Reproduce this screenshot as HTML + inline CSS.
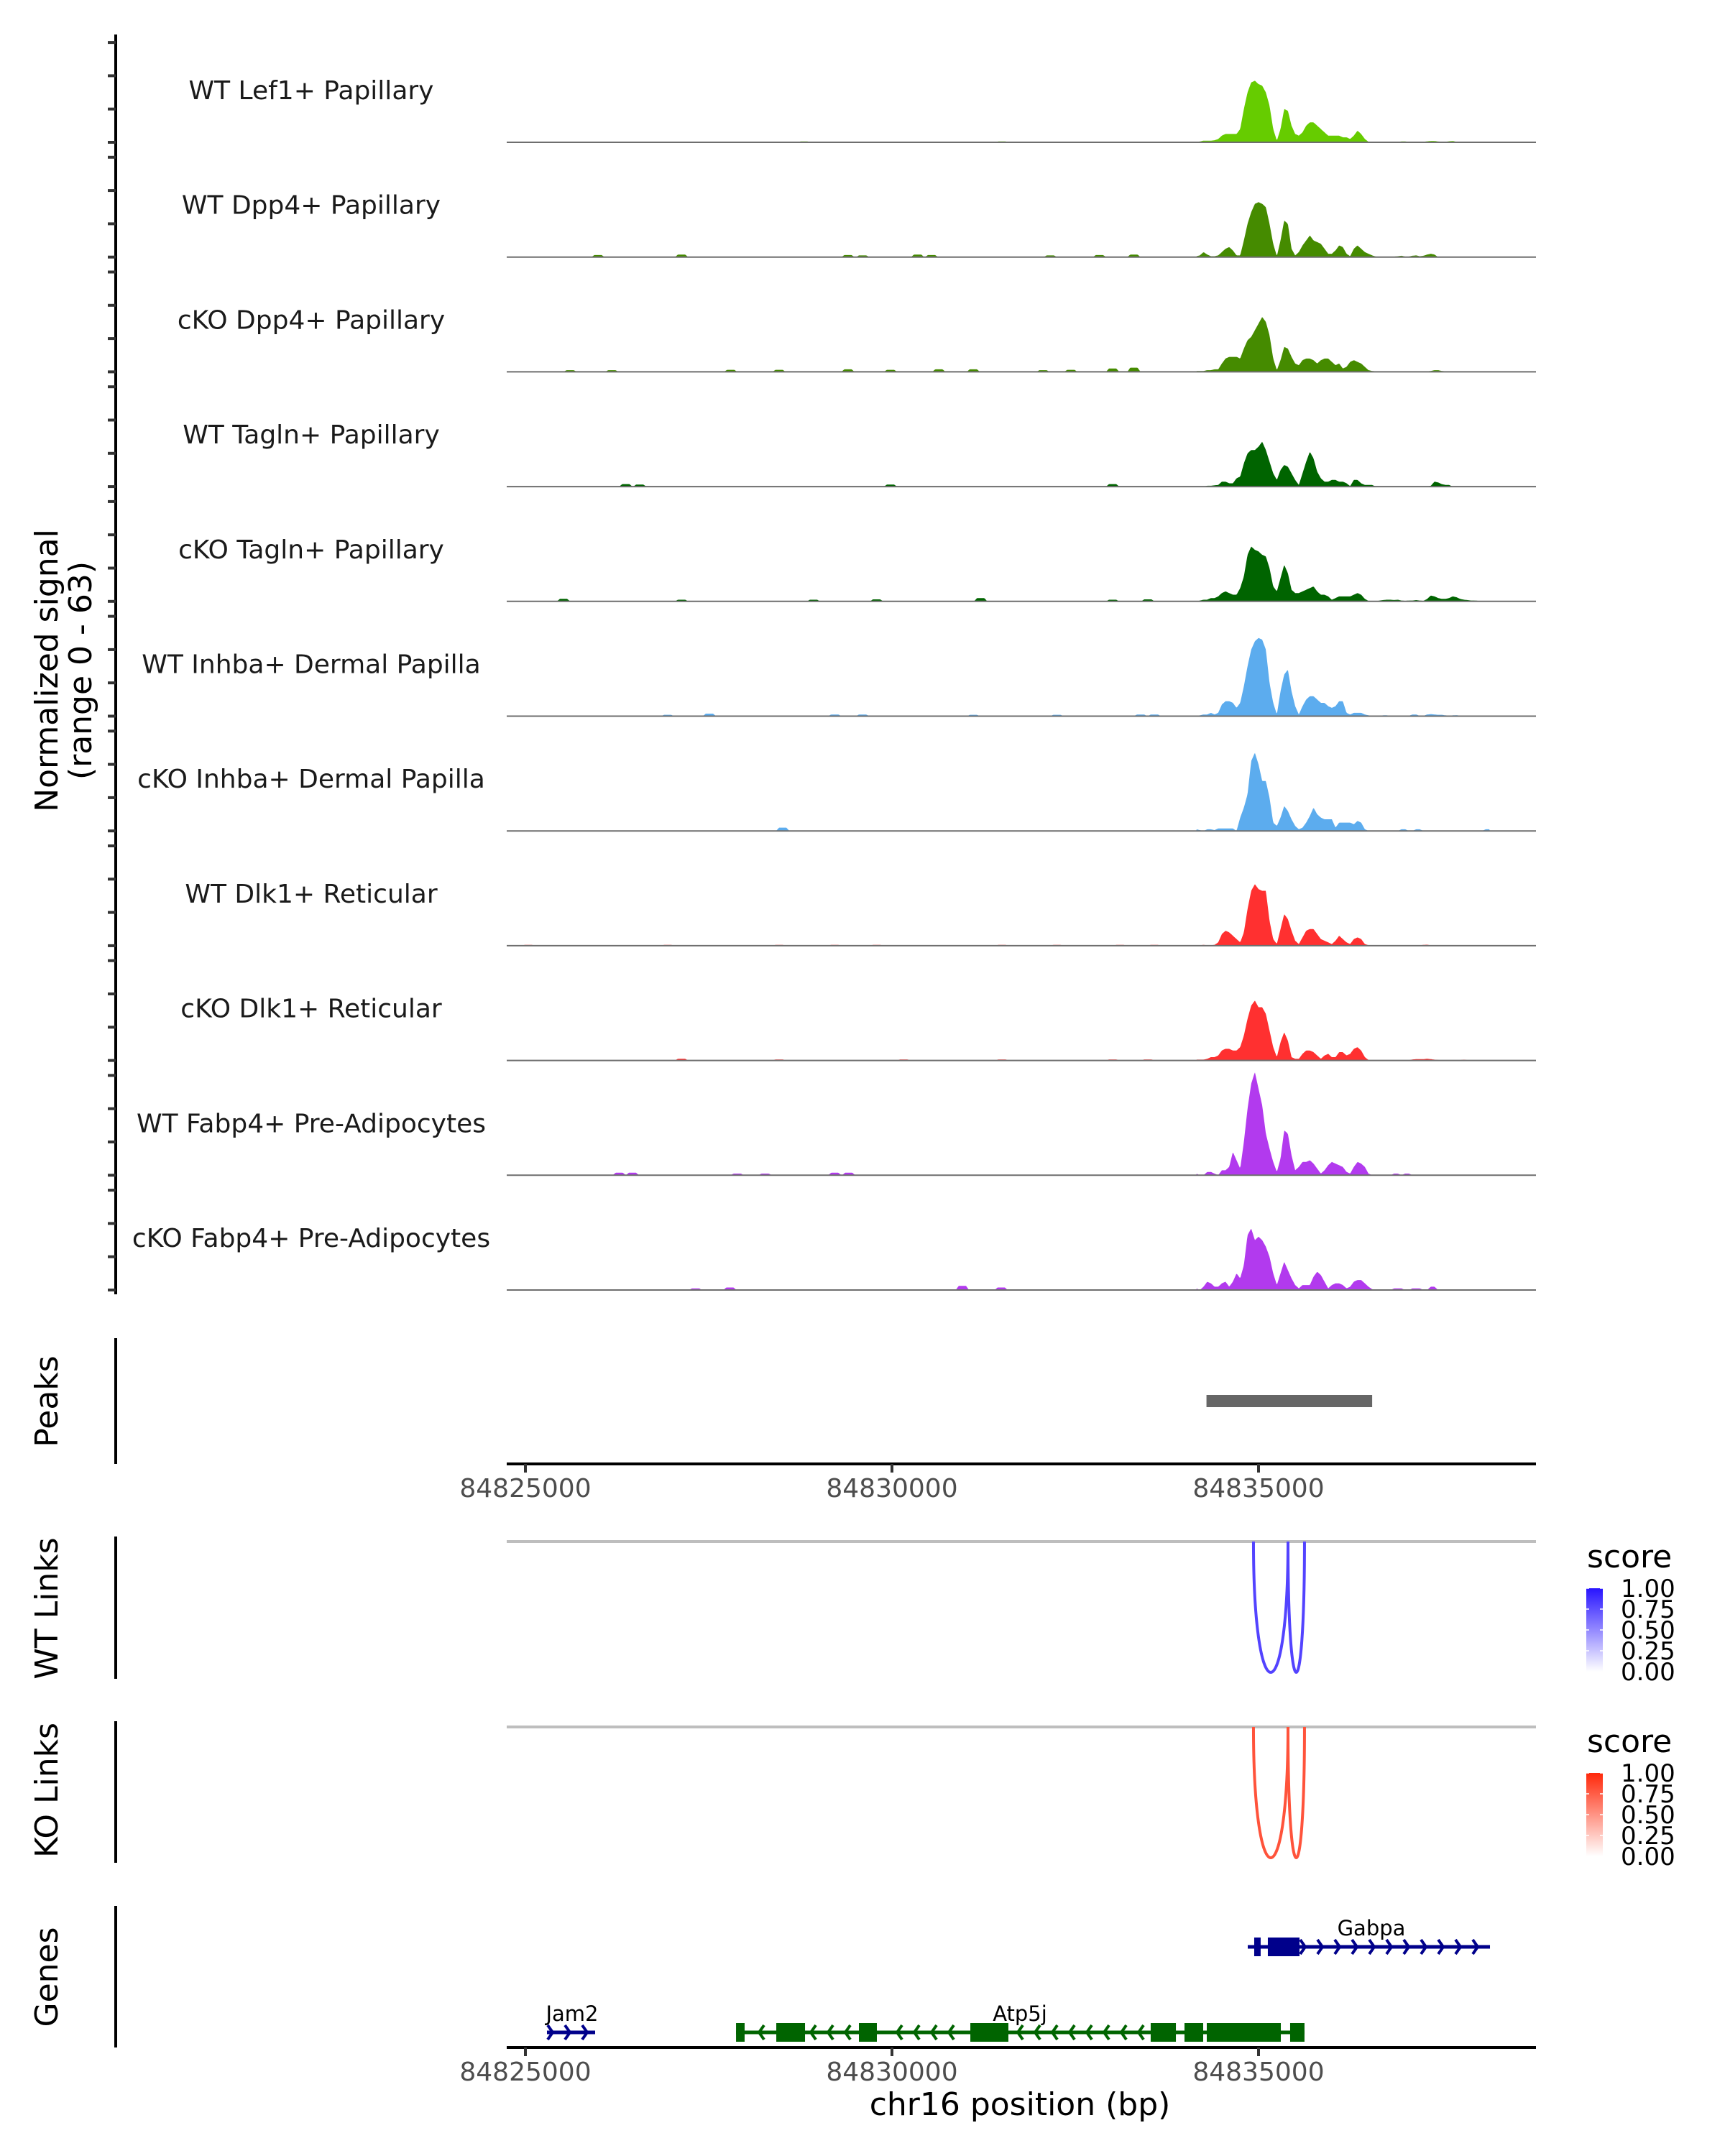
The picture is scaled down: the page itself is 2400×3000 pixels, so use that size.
<!DOCTYPE html>
<html><head><meta charset="utf-8"><title>Coverage plot</title>
<style>
html,body{margin:0;padding:0;background:#fff;}
svg{display:block;font-family:"DejaVu Sans","Liberation Sans",sans-serif;}
</style></head>
<body>
<svg id="chart" width="2400" height="3000" viewBox="0 0 2400 3000" xmlns="http://www.w3.org/2000/svg">
<rect x="0" y="0" width="2400" height="3000" fill="#fff"/>
</svg>
<script>
// ---------- DATA ----------
const trackNames = ["WT Lef1+ Papillary","WT Dpp4+ Papillary","cKO Dpp4+ Papillary","WT Tagln+ Papillary","cKO Tagln+ Papillary","WT Inhba+ Dermal Papilla","cKO Inhba+ Dermal Papilla","WT Dlk1+ Reticular","cKO Dlk1+ Reticular","WT Fabp4+ Pre-Adipocytes","cKO Fabp4+ Pre-Adipocytes"];
const trackColors = ["#66CC00","#458B00","#458B00","#006400","#006400","#5CACEE","#5CACEE","#FF3030","#FF3030","#B23AEE","#B23AEE"];
const binsBp = [84834150,84834200,84834250,84834300,84834350,84834400,84834450,84834500,84834550,84834600,
84834650,84834700,84834750,84834800,84834850,84834900,84834950,84835000,84835050,84835100,
84835150,84835200,84835250,84835300,84835350,84835400,84835450,84835500,84835550,84835600,
84835650,84835700,84835750,84835800,84835850,84835900,84835950,84836000,84836050,84836100,
84836150,84836200,84836250,84836300,84836350,84836400,84836450,84836500,84836550,84836600,
84836650,84836700,84836750,84836800,84836850,84836900,84836950,84837000,84837050,84837100,
84837150,84837200,84837250,84837300,84837350,84837400,84837450,84837500,84837550,84837600,
84837650,84837700,84837750,84837800,84837850,84837900,84837950,84838000,84838050,84838100,84838150];
const sigLef1WT = [0.3,0.5,1,1,1,1.2,2,4,5,5,5,5,8,20,30,36,37,35,34,30,22,8,1,8,20,19,10,5,4,6,10,12,12,10,8,6,4,4,4,4,3,3,2,4,7,5,2,0.3,
0.2,0.2,0.2,0.2,0.2,0.2,0.2,0.3,0.5,0.5,0.3,0.2,0.2,0.2,0.3,0.6,0.8,0.8,0.5,0.3,0.3,0.6,0.8,0.3,0.2,0.2,0.2,0.2,0.2,0.2,0.2,0.2,0.2];
const sigDpp4WT = [0.5,1,3,1.5,0.5,0.5,1,3,5,6,4,1,1,10,20,27,32,33,32,30,20,8,0.5,10,22,20,5,1,3,7,10,13,10,9,8,5,2,2,4,7,6,2,0.5,5,7,5,3,2,
1,0.3,0.3,0.3,0.3,0.3,0.3,0.5,0.8,0.3,0.3,0.8,1,0.5,0.8,1.5,2,1.5,0,0,0,0,0,0,0,0,0,0,0,0,0,0,0];
const sigDpp4KO = [0.5,0.5,0.5,1,1,1.5,1.5,5,8,9,9,9,8,14,19,21,25,29,33,30,22,8,1,7,15,14,9,5,4,7,8,8,7,5,7,8,8,6,4,5,2,3,6,7,6,5,3,1,
0.5,0.3,0.3,0.3,0.3,0.3,0.3,0.3,0.3,0.3,0.3,0.3,0.3,0.3,0.3,0.3,0.5,1,1,0.5,0.3,0.3,0.3,0.2,0.2,0.2,0.2,0.2,0.2,0.2,0.2,0.2,0.2];
const sigTaglnWT = [0,0,0,0.5,0.5,0.8,1,3,3,2,2,5,6,14,20,22,22,24,27,22,15,8,4,10,13,12,8,4,1,8,15,21,17,9,5,3,3,4,4,3,3,2,0.3,4,4,2,1,1,
1,0,0,0,0,0,0,0,0,0,0,0,0,0,0,0,0.5,3,2.5,1.5,1,1,0,0,0,0,0,0,0,0,0,0,0];
const sigTaglnKO = [0,0.5,1,1,2,2,3,5,6,5,4,4,8,15,28,33,31,30,28,27,20,9,6,14,22,17,7,5,5,6,7,8,9,6,4,4,3,1,2,3,3,3,3,4,5,4,1.5,0.3,
0,0,0.5,0.8,1,1,0.8,1,0.5,0.3,0.5,0.5,0.8,0.5,0.3,1.5,3.5,3,2,1.5,1.5,2,3,2.5,1.5,1,0.8,0.5,0.5,0.3,0.3,0.2,0];
const sigInhbaWT = [0.3,0.5,1,1,2,1,2,7,9,9,8,5,8,18,30,40,45,47,46,40,20,8,1,15,25,28,15,6,1,6,10,12,12,10,8,8,6,5,6,9,9,2,1,2,2,2,1,0.5,
0.2,0.2,0.3,0.5,0.5,0.2,0.2,0.4,0.4,0.2,0.2,1,1,0.2,0.2,1,1.2,1,0.8,0.8,0.5,0.3,0.5,0.6,0.3,0.3,0.3,0.2,0,0,0,0,0];
const sigInhbaKO = [1,0.5,0,1,1,0.5,1.5,1.5,1.5,1.5,1.5,0,8,14,22,42,47,40,30,30,20,5,3,8,15,12,7,3,1,2,5,9,14,10,8,7,7,7,2,5,5,5,5,4,6,5,1,0,
0,0,0,0,0,0,0,0,1,1,0,0,1,1,0,0,0,0,0,0,0,0,0,0,0,0,0,0,0,0,0,1,1];
const sigDlk1WT = [0.3,0.3,0.5,0.3,0.3,0.5,2,7,9,8,6,4,2,8,22,33,37,34,33,33,15,4,1,10,19,16,9,3,1,5,9,10,10,7,4,3,2,1,3,6,4,2,1,4,5,4,1,0.3,
0.2,0.2,0.2,0.2,0.2,0.2,0.2,0.2,0.2,0.2,0.2,0.2,0.2,0.2,0.5,0.6,0.2,0.2,0.2,0.2,0.2,0.2,0.4,0.2,0.2,0.2,0.2,0.4,0.2,0.2,0.2,0.2,0.2];
const sigDlk1KO = [0.5,0.5,0.5,1,2,2,3,6,7,7,6,6,8,15,25,33,36,32,32,28,18,8,2,11,17,12,2,1,1,4,6,6,5,3,1,3,4,2,2,5,5,3,4,7,8,6,2,0.3,
0.2,0.2,0.2,0.2,0.2,0.2,0.2,0.2,0.2,0.2,0.2,0.6,0.8,0.8,0.8,1,0.8,0.5,0.3,0.2,0.2,0.2,0.2,0.2,0.2,0.5,0.2,0.2,0.2,0.2,0.2,0.2,0.2];
const sigFabp4WT = [1,0,0,2,2,1,0,3,3,5,14,9,4,20,40,55,62,52,42,25,16,8,2,10,27,25,12,3,5,8,8,9,7,4,1,3,6,8,7,6,5,2,1,5,8,7,5,1,
0,0,0,0,0,0,1,1,0,1,1,0,0,0,0,0,0,0,0,0,0,0,0,0,0,0,0,0,0,0,0,0,0];
const sigFabp4KO = [1,0,2,5,4,2,2,4,5,2,5,10,7,15,33,37,30,32,30,26,20,10,3,10,17,12,7,3,1,3,3,3,8,11,9,5,1,3,4,4,3,1,2,5,6,6,4,2,
0.5,0,0,0,0,0,1,1,1,0,0,1,1,1,0,0,2,2,0,0,0,0,0,0,0,0,0,0,0,0,0,0,0];
const trackSignals = [sigLef1WT,sigDpp4WT,sigDpp4KO,sigTaglnWT,sigTaglnKO,sigInhbaWT,sigInhbaKO,sigDlk1WT,sigDlk1KO,sigFabp4WT,sigFabp4KO];
// background bumps outside the peak: [bp, value]
const bgLef1WT = [[84828800,0.5],[84830000,0.4],[84831500,0.5],[84833000,0.4]];
const bgDpp4WT = [[84825990,1.2],[84827130,1.5],[84829400,1.2],[84829600,1],[84830350,1.5],[84830540,1.2],[84832160,1],[84832830,1.2],[84833300,1.5]];
const bgDpp4KO = [[84825610,1],[84826180,1],[84827800,1.2],[84828460,1.2],[84829400,1.5],[84829980,1.2],[84830640,1.5],[84831110,1.5],[84832060,1],[84832440,1.2],[84833010,2],[84833300,2.5]];
const bgTaglnWT = [[84826370,1.5],[84826560,1.2],[84829980,1.2],[84833010,1.5]];
const bgTaglnKO = [[84825520,1.5],[84827130,1],[84828930,1],[84829790,1.2],[84831210,2],[84833010,1],[84833490,1.2]];
const bgInhbaWT = [[84826940,0.8],[84827510,1.5],[84829220,1],[84829600,1],[84831110,0.8],[84832250,0.8],[84833390,1],[84833580,1]];
const bgInhbaKO = [[84828510,2]];
const bgDlk1WT = [[84825040,0.5],[84826940,0.5],[84828460,0.5],[84829220,0.5],[84829790,0.5],[84831500,0.5],[84832250,0.5],[84833110,0.5],[84833580,0.5]];
const bgDlk1KO = [[84827130,1],[84828460,0.6],[84830160,0.6],[84831500,0.6],[84833010,0.6],[84833490,0.6]];
const bgFabp4WT = [[84826280,1.5],[84826460,1.5],[84827890,1],[84828270,1],[84829220,1.5],[84829410,1.5]];
const bgFabp4KO = [[84827320,1],[84827790,1.5],[84830960,2.5],[84831490,1.5]];
const trackBackground = [bgLef1WT,bgDpp4WT,bgDpp4KO,bgTaglnWT,bgTaglnKO,bgInhbaWT,bgInhbaKO,bgDlk1WT,bgDlk1KO,bgFabp4WT,bgFabp4KO];
const yTickVals = [0,20,40,60];
const xTickVals = [84825000,84830000,84835000];
const xTickLabels = ["84825000","84830000","84835000"];
const peakStarts = [84834290];
const peakEnds = [84836550];
const linkStarts = [84834931,84835402];
const linkEnds = [84835402,84835627];
const linkScoresWT = [0.8,0.8];
const linkScoresKO = [0.8,0.8];
const legendTickVals = [1.00,0.75,0.50,0.25,0.00];
const legendTickLabels = ["1.00","0.75","0.50","0.25","0.00"];
const geneNames = ["Gabpa","Jam2","Atp5j"];
const geneStarts = [84834853,84825294,84827873];
const geneEnds = [84838157,84825951,84835627];
const geneStrands = ["+","+","-"];
const geneExons = [
  [[84834941,84835029],[84835127,84835559]],
  [],
  [[84827873,84827990],[84828422,84828814],[84829549,84829794],[84831069,84831588],[84833529,84833873],[84833990,84834245],[84834294,84835304],[84835431,84835627]]
];

// ---------- LAYOUT ----------
const NS = "http://www.w3.org/2000/svg";
const svg = document.getElementById("chart");
const X0 = 705, X1 = 2137;
function xScale(bp){ return 731 + (bp - 84825000) * 0.102; }
function xInv(px){ return 84825000 + (px - 731) / 0.102; }
const PXPERUNIT = 2.315;
function trackBase(k){ return 198 + 159.7 * k; }
function el(tag, attrs, parent){
  const e = document.createElementNS(NS, tag);
  for (const k in attrs) e.setAttribute(k, attrs[k]);
  (parent || svg).appendChild(e);
  return e;
}
function txt(str, attrs, parent){ const t = el("text", attrs, parent); t.textContent = str; return t; }

// ---------- SIGNAL TRACKS ----------
function interp(bins, vals, bp){
  if (bp < bins[0] || bp > bins[bins.length-1]) return 0;
  for (let i=0;i<bins.length-1;i++){
    if (bp>=bins[i] && bp<=bins[i+1]){
      const t=(bp-bins[i])/(bins[i+1]-bins[i]);
      return vals[i]+(vals[i+1]-vals[i])*t;
    }
  }
  return 0;
}
function bumpVal(bumps, bp){
  let v=0;
  for (const b of bumps){
    const d=Math.abs(bp-b[0]);
    if (d<50) v=Math.max(v,b[1]);
    else if (d<90) v=Math.max(v,b[1]*(90-d)/40);
  }
  return v;
}
const sigAxis = el("line",{x1:161,y1:48,x2:161,y2:1801,stroke:"#000","stroke-width":4});


for (let k=0;k<trackNames.length;k++){
  const base = trackBase(k);
  const g = el("g",{});
  
  
  let pts = X0+","+base+" ";
  for (let px=X0; px<=X1; px+=1){
    const bp = xInv(px);
    const v = interp(binsBp, trackSignals[k], bp) + bumpVal(trackBackground[k], bp);
    pts += px+","+(base - v*PXPERUNIT).toFixed(1)+" ";
  }
  pts += X1+","+base;
  const area = el("polygon",{points:pts,fill:trackColors[k],stroke:"none"},g);
  
  
  const bl = el("line",{x1:X0,y1:base,x2:X1,y2:base,stroke:"#6e6e6e","stroke-width":2},g);
  
  
  const lab = txt(trackNames[k],{x:433,y:base-60,"text-anchor":"middle","font-size":36,fill:"#1a1a1a"},g);
  
  
  for (const tv of yTickVals){
    const ty = base - tv*PXPERUNIT;
    const tk = el("line",{x1:150,y1:ty,x2:161,y2:ty,stroke:"#333","stroke-width":4},g);
    
    
  }
}
const yTitle = el("text",{"font-size":44,fill:"#000","text-anchor":"middle",transform:"translate(80,933) rotate(-90)"});


yTitle.textContent = "Normalized signal";
const yTitle2 = el("text",{"font-size":44,fill:"#000","text-anchor":"middle",transform:"translate(127,933) rotate(-90)"});


yTitle2.textContent = "(range 0 - 63)";

// ---------- side panel titles ----------
function panelTitle(name, label, cy, ya, yb){
  const ax = el("line",{x1:161,y1:ya,x2:161,y2:yb,stroke:"#000","stroke-width":4});
  
  
  const t = el("text",{"font-size":44,fill:"#000","text-anchor":"middle",transform:"translate(80,"+cy+") rotate(-90)"});
  
  
  t.textContent = label;
}
panelTitle("peaks","Peaks",1950,1862,2037);
panelTitle("wt-links","WT Links",2238,2138,2336);
panelTitle("ko-links","KO Links",2491,2395,2592);
panelTitle("genes","Genes",2751,2652,2849);

// ---------- PEAKS ----------
for (let i=0;i<peakStarts.length;i++){
  const r = el("rect",{x:xScale(peakStarts[i]),y:1941,width:xScale(peakEnds[i])-xScale(peakStarts[i]),height:17,fill:"#666666"});
  
  
}
function xAxis(name, y){
  const a = el("line",{x1:X0,y1:y,x2:X1,y2:y,stroke:"#000","stroke-width":4});
  
  
  for (let i=0;i<xTickVals.length;i++){
    const x = xScale(xTickVals[i]);
    const t = el("line",{x1:x,y1:y,x2:x,y2:y+12,stroke:"#333","stroke-width":4});
    
    
    const l = txt(xTickLabels[i],{x:x,y:y+46,"text-anchor":"middle","font-size":36,fill:"#4d4d4d"});
    
    
  }
}
xAxis("peaks-x-axis",2037);

// ---------- LINKS ----------
function linkPanel(name, top, bottom, starts, ends, scores, topRGB, legendTop){
  const gl = el("line",{x1:X0,y1:top,x2:X1,y2:top,stroke:"#bebebe","stroke-width":4});
  
  
  for (let i=0;i<starts.length;i++){
    const x1 = xScale(starts[i]), x2 = xScale(ends[i]);
    const d = (bottom-top)*4/3;
    const s = scores[i];
    const col = "rgb("+Math.round(255+(topRGB[0]-255)*s)+","+Math.round(255+(topRGB[1]-255)*s)+","+Math.round(255+(topRGB[2]-255)*s)+")";
    const p = el("path",{d:"M"+x1+","+top+" C"+x1+","+(top+d)+" "+x2+","+(top+d)+" "+x2+","+top,fill:"none",stroke:col,"stroke-width":4});
    
    
  }
  const lg = el("g",{});
  
  
  const ttl = txt("score",{x:2208,y:legendTop,"font-size":44,fill:"#000"},lg);
  
  
  const gid = name+"-grad";
  const defs = el("defs",{},lg);
  const grad = el("linearGradient",{id:gid,x1:0,y1:0,x2:0,y2:1},defs);
  el("stop",{offset:"0","stop-color":"rgb("+topRGB.join(",")+")"},grad);
  el("stop",{offset:"1","stop-color":"#ffffff"},grad);
  const barTop = legendTop+29, barH = 116;
  const bar = el("rect",{x:2207,y:barTop,width:23,height:barH,fill:"url(#"+gid+")"},lg);
  
  
  for (let i=0;i<legendTickVals.length;i++){
    const ty = barTop + (1-legendTickVals[i])*barH;
    el("line",{x1:2207,y1:ty,x2:2211,y2:ty,stroke:"#fff","stroke-width":1.5},lg);
    el("line",{x1:2226,y1:ty,x2:2230,y2:ty,stroke:"#fff","stroke-width":1.5},lg);
    const l = txt(legendTickLabels[i],{x:2255,y:ty+12,"font-size":34,fill:"#000"},lg);
    
    
  }
}
linkPanel("wt-links",2145,2327,linkStarts,linkEnds,linkScoresWT,[40,20,255],2181);
linkPanel("ko-links",2403,2585,linkStarts,linkEnds,linkScoresKO,[255,40,10],2438);

// ---------- GENES ----------
const geneY = [2709,2828,2828];
const geneColors = ["#00008B","#00008B","#006400"];
for (let gi=0; gi<geneNames.length; gi++){
  const g = el("g",{});
  
  
  const y = geneY[gi], col = geneColors[gi];
  const xs = xScale(geneStarts[gi]), xe = xScale(geneEnds[gi]);
  const ln = el("line",{x1:xs,y1:y,x2:xe,y2:y,stroke:col,"stroke-width":5},g);
  
  
  const ex = geneExons[gi].map(e=>[xScale(e[0]),xScale(e[1])]);
  for (const e of ex){
    const r = el("rect",{x:e[0],y:y-13,width:e[1]-e[0],height:26,fill:col},g);
    
    
  }
  const dir = geneStrands[gi]==="+" ? 1 : -1;
  for (let x=xs+8; x<=xe-2; x+=24){
    let inside=false;
    for (const e of ex){ if (x>e[0]-6 && x<e[1]+6) inside=true; }
    if (inside) continue;
    const c = el("polyline",{points:(x-7*dir)+","+(y-10)+" "+x+","+y+" "+(x-7*dir)+","+(y+10),fill:"none",stroke:col,"stroke-width":4},g);
    
    
  }
  const lx = gi===0 ? 1908 : (gi===1 ? 796 : 1419);
  const lab = txt(geneNames[gi],{x:lx,y:y-16,"text-anchor":"middle","font-size":29,fill:"#000"},g);
  
  
}
xAxis("genes-x-axis",2849);
const xt = txt("chr16 position (bp)",{x:1419,y:2943,"text-anchor":"middle","font-size":44,fill:"#000"});


</script>
</body></html>
